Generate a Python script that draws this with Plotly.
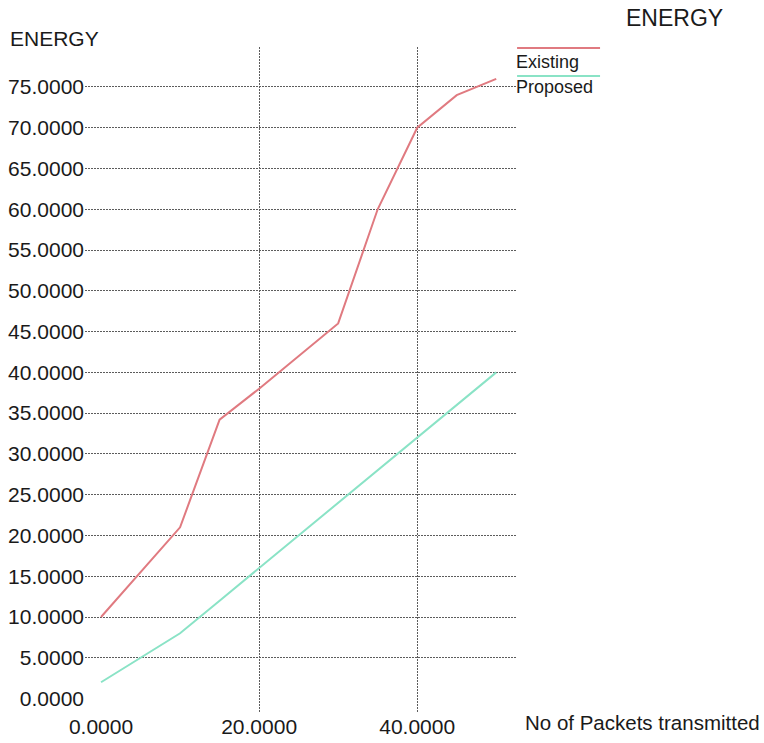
import plotly.graph_objects as go

# Energy consumed vs number of packets transmitted
packets = [0, 5, 10, 15, 20, 25, 30, 35, 40, 45, 50]
existing_x = [0, 10, 15, 20, 30, 35, 40, 45, 50]
existing_energy = [10, 21, 34.2, 38, 46, 60, 70, 74, 76]
proposed_energy = [2, 5, 8, 12, 16, 20, 24, 28, 32, 36, 40]

y_ticks = [0, 5, 10, 15, 20, 25, 30, 35, 40, 45, 50, 55, 60, 65, 70, 75]
y_grid = y_ticks[1:]
x_ticks = [0, 20, 40]
x_grid = [20, 40]

FONT = "Liberation Sans, Arial, Helvetica, sans-serif"
RED = "#e07a80"
TEAL = "#8ae3c6"
GRID = "#5c5c5c"

x_range = [-2.03, 52.5]
y_range = [-1.65, 79.9]
MARGIN = dict(l=85, r=248, t=47, b=31)
PLOT_H = 743 - MARGIN["t"] - MARGIN["b"]

fig = go.Figure()

# invisible trace that anchors the grid-only axes
fig.add_trace(go.Scatter(x=[None], y=[None], xaxis="x2", yaxis="y2",
                         showlegend=False, hoverinfo="skip"))

fig.add_trace(go.Scatter(x=existing_x, y=existing_energy, mode="lines",
                         name="Existing", line=dict(color=RED, width=2),
                         showlegend=False))
fig.add_trace(go.Scatter(x=packets, y=proposed_energy, mode="lines",
                         name="Proposed", line=dict(color=TEAL, width=2),
                         showlegend=False))

fig.update_layout(
    width=764, height=743,
    margin=MARGIN,
    paper_bgcolor="white", plot_bgcolor="white",
    font=dict(family=FONT, size=21, color="#1a1a1a"),
    xaxis=dict(range=x_range, tickvals=x_ticks,
               ticktext=[f"{v:.4f}" for v in x_ticks], automargin=False,
               showgrid=False, zeroline=False, showline=False, ticks=""),
    yaxis=dict(range=y_range, tickvals=y_ticks,
               ticktext=[f"{v:.4f}" for v in y_ticks], automargin=False,
               showgrid=False, zeroline=False, showline=False, ticks=""),
    xaxis2=dict(range=x_range, overlaying="x", tickvals=x_grid, automargin=False,
                showticklabels=False, showgrid=True, gridcolor=GRID,
                gridwidth=1.4, griddash="2px,1px", zeroline=False, ticks=""),
    yaxis2=dict(range=y_range, overlaying="y", tickvals=y_grid, automargin=False,
                showticklabels=False, showgrid=True, gridcolor=GRID,
                gridwidth=1.4, griddash="2px,1px", zeroline=False, ticks=""),
    showlegend=False,
)

# titles
fig.add_annotation(text="ENERGY", xref="paper", yref="paper", x=1.368, y=1.0,
                   xanchor="center", yanchor="bottom", yshift=14, showarrow=False,
                   font=dict(size=23))
fig.add_annotation(text="ENERGY", xref="paper", yref="paper", x=0, y=1,
                   xanchor="left", yanchor="middle", xshift=-77, yshift=9,
                   showarrow=False, font=dict(size=21))
fig.add_annotation(text="No of Packets transmitted", xref="paper", yref="paper",
                   x=1, y=0, xanchor="left", yanchor="middle", xshift=7,
                   yshift=-10, showarrow=False, font=dict(size=20.5))

# legend entries: line sample above each label
legend_rows = [("Existing", RED, 1, 15), ("Proposed", TEAL, 29, 40)]
for label, color, line_off, text_off in legend_rows:
    y_line = 1 - line_off / PLOT_H
    y_text = 1 - text_off / PLOT_H
    fig.add_shape(type="line", xref="paper", yref="paper",
                  x0=1.0025, x1=1.195, y0=y_line, y1=y_line,
                  line=dict(color=color, width=2))
    fig.add_annotation(text=label, xref="paper", yref="paper", x=1.0, y=y_text,
                       xanchor="left", yanchor="middle", xshift=-2,
                       showarrow=False, font=dict(size=18))

fig.write_html("out.html")
